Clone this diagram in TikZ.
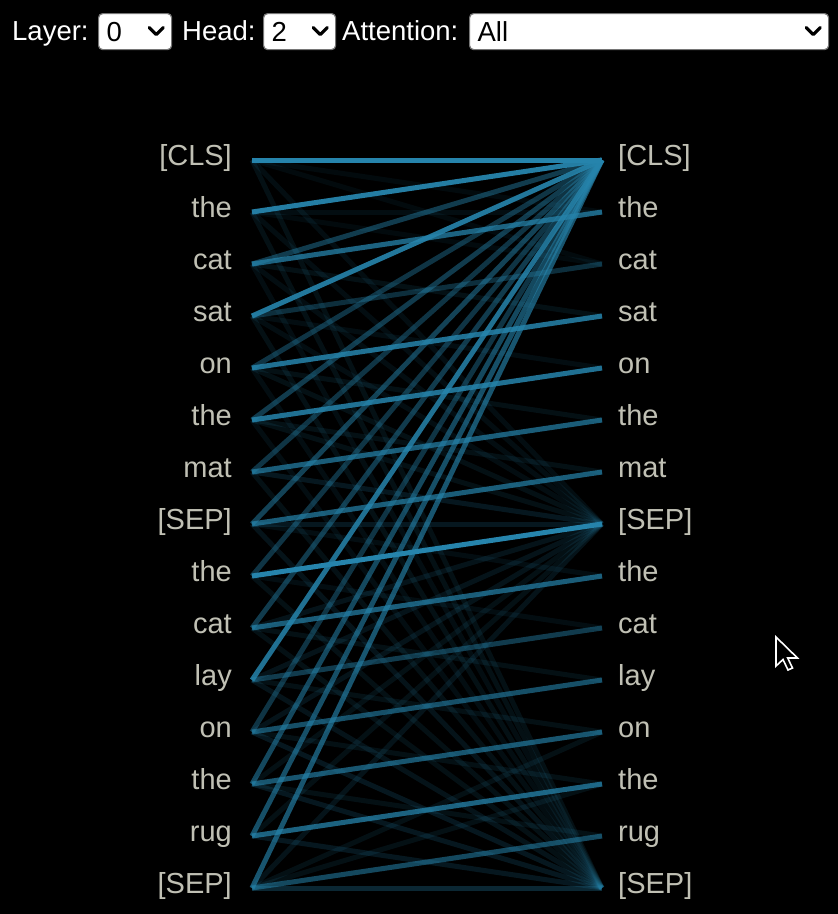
\documentclass[tikz,border=0pt]{standalone}
\usepackage{fontspec}
\setmainfont{Liberation Sans}
\definecolor{lineBlue}{RGB}{38,132,172}
\definecolor{tokGray}{RGB}{192,192,180}
\definecolor{boxGray}{RGB}{118,118,118}
\newcommand{\tokFont}{\fontsize{29}{34}\selectfont}
\newcommand{\ctrlFont}{\fontsize{27.5}{32}\selectfont}

\begin{document}
\begin{tikzpicture}[
            x=1pt, y=-1pt,
            leftTok/.style={anchor=east, text=tokGray, font=\tokFont, inner xsep=20pt,
            inner ysep=0pt, text height=20pt, text depth=9pt},
            rightTok/.style={anchor=west, text=tokGray, font=\tokFont, inner xsep=16pt,
            inner ysep=0pt, text height=20pt, text depth=9pt},
            ctrlLabel/.style={anchor=base west, text=white, font=\ctrlFont, inner sep=0pt},
            dropBox/.style={draw=boxGray, fill=white, rounded corners=4pt, line width=1.2pt,
            anchor=north west, minimum height=36pt, inner xsep=8pt, inner ysep=0pt,
            text width=#1, align=left, font=\ctrlFont, text height=19.5pt, text depth=0pt},
            chevron/.style={line width=3.2pt, line cap=round, line join=round},
            attn/.style={draw=lineBlue, draw opacity=#1, line width=5pt},
        ]
        \fill[black] (0,0) rectangle (838,914);
        \useasboundingbox (0,0) rectangle (838,914);
        % controls
        \node[ctrlLabel] (layerLbl) at (12,40.5) {Layer:};
        \node[dropBox=57pt] (layerBox) at (98,13) {0};
        \node[ctrlLabel] (headLbl) at (182,40.5) {Head:};
        \node[dropBox=56pt] (headBox) at (263,13) {2};
        \node[ctrlLabel] (attnLbl) at (342,40.5) {Attention:};
        \node[dropBox=343pt] (attnBox) at (469,13) {All};
        \draw[chevron] ([shift={(-23,-4)}]layerBox.east) -- ++(7,7) -- ++(7,-7);
        \draw[chevron] ([shift={(-23,-4)}]headBox.east) -- ++(7,7) -- ++(7,-7);
        \draw[chevron] ([shift={(-23,-4)}]attnBox.east) -- ++(7,7) -- ++(7,-7);
        % left tokens
        \node[leftTok] (lCls) at (252,160) {[CLS]};
            \path (lCls.east) ++(0,52) node[leftTok] (lThe1) {the};
            \path (lThe1.east) ++(0,52) node[leftTok] (lCat1) {cat};
            \path (lCat1.east) ++(0,52) node[leftTok] (lSat) {sat};
            \path (lSat.east) ++(0,52) node[leftTok] (lOn1) {on};
            \path (lOn1.east) ++(0,52) node[leftTok] (lThe2) {the};
            \path (lThe2.east) ++(0,52) node[leftTok] (lMat) {mat};
            \path (lMat.east) ++(0,52) node[leftTok] (lSep1) {[SEP]};
            \path (lSep1.east) ++(0,52) node[leftTok] (lThe3) {the};
            \path (lThe3.east) ++(0,52) node[leftTok] (lCat2) {cat};
            \path (lCat2.east) ++(0,52) node[leftTok] (lLay) {lay};
            \path (lLay.east) ++(0,52) node[leftTok] (lOn2) {on};
            \path (lOn2.east) ++(0,52) node[leftTok] (lThe4) {the};
            \path (lThe4.east) ++(0,52) node[leftTok] (lRug) {rug};
            \path (lRug.east) ++(0,52) node[leftTok] (lSep2) {[SEP]};
        % right tokens
        \path (lCls.east) ++(350,0) node[rightTok] (rCls) {[CLS]};
            \path (rCls.west) ++(0,52) node[rightTok] (rThe1) {the};
            \path (rThe1.west) ++(0,52) node[rightTok] (rCat1) {cat};
            \path (rCat1.west) ++(0,52) node[rightTok] (rSat) {sat};
            \path (rSat.west) ++(0,52) node[rightTok] (rOn1) {on};
            \path (rOn1.west) ++(0,52) node[rightTok] (rThe2) {the};
            \path (rThe2.west) ++(0,52) node[rightTok] (rMat) {mat};
            \path (rMat.west) ++(0,52) node[rightTok] (rSep1) {[SEP]};
            \path (rSep1.west) ++(0,52) node[rightTok] (rThe3) {the};
            \path (rThe3.west) ++(0,52) node[rightTok] (rCat2) {cat};
            \path (rCat2.west) ++(0,52) node[rightTok] (rLay) {lay};
            \path (rLay.west) ++(0,52) node[rightTok] (rOn2) {on};
            \path (rOn2.west) ++(0,52) node[rightTok] (rThe4) {the};
            \path (rThe4.west) ++(0,52) node[rightTok] (rRug) {rug};
            \path (rRug.west) ++(0,52) node[rightTok] (rSep2) {[SEP]};
        % attention lines
        \draw[attn=1] (lCls.east) -- (rCls.west); \draw[attn=.08] (lCls.east) -- (rThe1.west); \draw[attn=.08] (lCls.east) -- (rCat1.west); \draw[attn=.1] (lCls.east) -- (rSep1.west); \draw[attn=.12] (lCls.east) -- (rSep2.west);
        \draw[attn=.95] (lThe1.east) -- (rCls.west); \draw[attn=.1] (lThe1.east) -- (rThe1.west); \draw[attn=.08] (lThe1.east) -- (rCat1.west); \draw[attn=.1] (lThe1.east) -- (rSep1.west); \draw[attn=.12] (lThe1.east) -- (rSep2.west);
        \draw[attn=.75] (lCat1.east) -- (rThe1.west); \draw[attn=.45] (lCat1.east) -- (rCls.west); \draw[attn=.12] (lCat1.east) -- (rSat.west); \draw[attn=.1] (lCat1.east) -- (rSep1.west); \draw[attn=.1] (lCat1.east) -- (rSep2.west);
        \draw[attn=.9] (lSat.east) -- (rCls.west); \draw[attn=.35] (lSat.east) -- (rCat1.west); \draw[attn=.1] (lSat.east) -- (rOn1.west); \draw[attn=.1] (lSat.east) -- (rSep1.west); \draw[attn=.12] (lSat.east) -- (rSep2.west);
        \draw[attn=.85] (lOn1.east) -- (rSat.west); \draw[attn=.4] (lOn1.east) -- (rCls.west); \draw[attn=.12] (lOn1.east) -- (rThe2.west); \draw[attn=.12] (lOn1.east) -- (rSep1.west); \draw[attn=.1] (lOn1.east) -- (rSep2.west);
        \draw[attn=.85] (lThe2.east) -- (rOn1.west); \draw[attn=.45] (lThe2.east) -- (rCls.west); \draw[attn=.12] (lThe2.east) -- (rMat.west); \draw[attn=.12] (lThe2.east) -- (rSep1.west); \draw[attn=.1] (lThe2.east) -- (rSep2.west);
        \draw[attn=.7] (lMat.east) -- (rThe2.west); \draw[attn=.4] (lMat.east) -- (rCls.west); \draw[attn=.18] (lMat.east) -- (rSep1.west); \draw[attn=.12] (lMat.east) -- (rSep2.west);
        \draw[attn=.7] (lSep1.east) -- (rMat.west); \draw[attn=.5] (lSep1.east) -- (rCls.west); \draw[attn=.18] (lSep1.east) -- (rSep1.west); \draw[attn=.15] (lSep1.east) -- (rSep2.west); \draw[attn=.1] (lSep1.east) -- (rThe3.west);
        \draw[attn=1] (lThe3.east) -- (rSep1.west); \draw[attn=.4] (lThe3.east) -- (rCls.west); \draw[attn=.1] (lThe3.east) -- (rCat2.west); \draw[attn=.12] (lThe3.east) -- (rSep2.west);
        \draw[attn=.7] (lCat2.east) -- (rThe3.west); \draw[attn=.45] (lCat2.east) -- (rCls.west); \draw[attn=.12] (lCat2.east) -- (rLay.west); \draw[attn=.15] (lCat2.east) -- (rSep1.west); \draw[attn=.12] (lCat2.east) -- (rSep2.west);
        \draw[attn=.85] (lLay.east) -- (rCls.west); \draw[attn=.45] (lLay.east) -- (rCat2.west); \draw[attn=.12] (lLay.east) -- (rOn2.west); \draw[attn=.15] (lLay.east) -- (rSep1.west); \draw[attn=.15] (lLay.east) -- (rSep2.west);
        \draw[attn=.6] (lOn2.east) -- (rLay.west); \draw[attn=.4] (lOn2.east) -- (rCls.west); \draw[attn=.12] (lOn2.east) -- (rThe4.west); \draw[attn=.15] (lOn2.east) -- (rSep1.west); \draw[attn=.18] (lOn2.east) -- (rSep2.west);
        \draw[attn=.65] (lThe4.east) -- (rOn2.west); \draw[attn=.55] (lThe4.east) -- (rCls.west); \draw[attn=.12] (lThe4.east) -- (rRug.west); \draw[attn=.12] (lThe4.east) -- (rSep1.west); \draw[attn=.18] (lThe4.east) -- (rSep2.west);
        \draw[attn=.75] (lRug.east) -- (rThe4.west); \draw[attn=.6] (lRug.east) -- (rCls.west); \draw[attn=.12] (lRug.east) -- (rSep1.west); \draw[attn=.18] (lRug.east) -- (rSep2.west);
        \draw[attn=.55] (lSep2.east) -- (rRug.west); \draw[attn=.65] (lSep2.east) -- (rCls.west); \draw[attn=.3] (lSep2.east) -- (rSep2.west); \draw[attn=.15] (lSep2.east) -- (rSep1.west); \draw[attn=.12] (lSep2.east) -- (rThe4.west); \draw[attn=.12] (lSep2.east) -- (rOn2.west);
        % mouse pointer
        \coordinate (cursorTip) at (776,637);
        \draw[white, fill=black, line width=1.6pt, line join=miter] (cursorTip) -- ++(0,29) -- ++(7,-6.5) -- ++(5,10.5) -- ++(4.5,-2) -- ++(-4.8,-10) -- ++(9.8,0) -- cycle;
    \end{tikzpicture}
\end{document}
